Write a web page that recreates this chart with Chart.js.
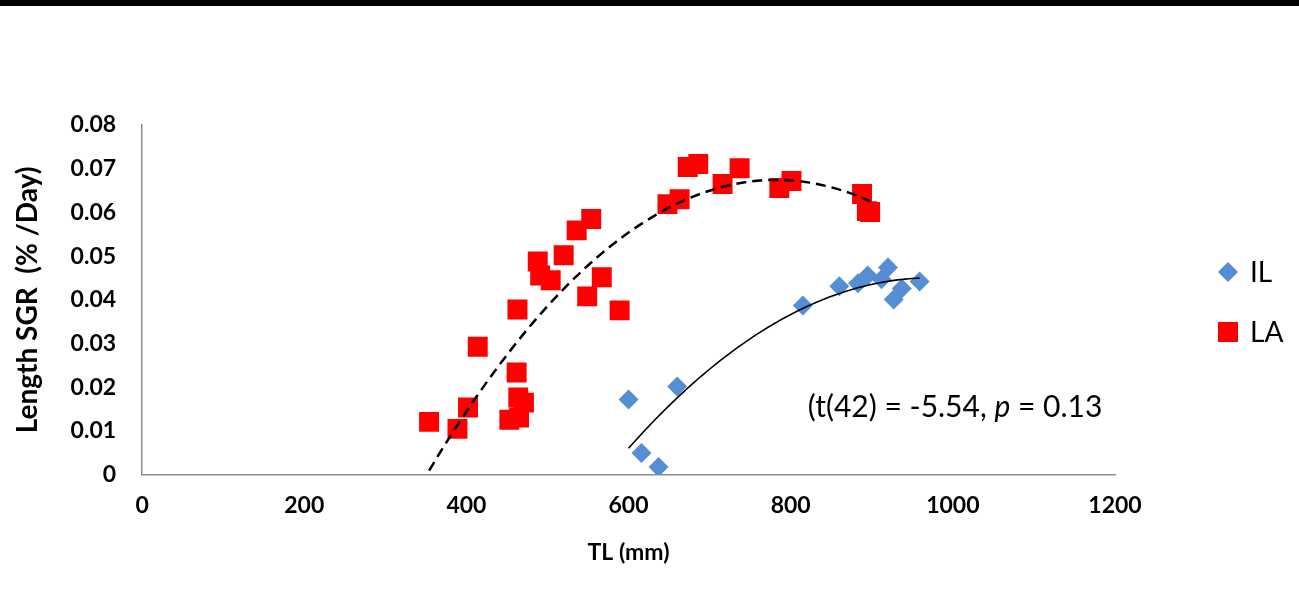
<!DOCTYPE html>
<html>
<head>
<meta charset="utf-8">
<script src="https://cdn.jsdelivr.net/npm/chart.js@4"></script>
<style>
  html, body { margin: 0; padding: 0; background: #fff; }
  #wrap { width: 1299px; height: 596px; }
</style>
</head>
<body>
<div id="wrap"><canvas id="chart"></canvas></div>
<script>
// values
const ilTL  = [600, 616, 637, 660, 815, 860, 883, 895, 912, 920, 937, 927, 959];
const ilSGR = [0.0172, 0.0050, 0.0018, 0.0202, 0.0387, 0.0431, 0.0438, 0.0456, 0.0447, 0.0474, 0.0426, 0.0401, 0.0442];

const laTL  = [354, 389, 402, 414, 463, 462, 464, 471, 453, 465, 488, 491, 504, 520, 536, 554, 567, 549, 589,
               648, 663, 673, 686, 716, 737, 786, 801, 888, 894, 898];
const laSGR = [0.0121, 0.0105, 0.0154, 0.0293, 0.0378, 0.0234, 0.0177, 0.0165, 0.0126, 0.0131, 0.0488, 0.0456,
               0.0445, 0.0502, 0.0559, 0.0585, 0.0452, 0.0408, 0.0376, 0.0619, 0.0630, 0.0704, 0.0711, 0.0665,
               0.0701, 0.0656, 0.0672, 0.0642, 0.0603, 0.0601];

const xTicks = [0, 200, 400, 600, 800, 1000, 1200];
const yTicks = [0, 0.01, 0.02, 0.03, 0.04, 0.05, 0.06, 0.07, 0.08];
const yTickLabels = ["0", "0.01", "0.02", "0.03", "0.04", "0.05", "0.06", "0.07", "0.08"];

const statText = ["(t(42) = -5.54, ", "p", " = 0.13"];
const statAt = { x: 821, y: 0.0154 };

const IL_BLUE = "#558ED5";
const LA_RED = "#FF0000";
const AXIS_GREY = "#8C8C8C";

Chart.defaults.font.family = "Lato";
Chart.defaults.color = "#000";

// second order polynomial trendline, like the spreadsheet one
function quadFit(xs, ys) {
  let s0 = xs.length, s1 = 0, s2 = 0, s3 = 0, s4 = 0, t0 = 0, t1 = 0, t2 = 0;
  xs.forEach((x, i) => {
    const y = ys[i];
    s1 += x; s2 += x * x; s3 += x * x * x; s4 += x * x * x * x;
    t0 += y; t1 += x * y; t2 += x * x * y;
  });
  const det = (m) =>
    m[0][0] * (m[1][1] * m[2][2] - m[1][2] * m[2][1]) -
    m[0][1] * (m[1][0] * m[2][2] - m[1][2] * m[2][0]) +
    m[0][2] * (m[1][0] * m[2][1] - m[1][1] * m[2][0]);
  const M = [[s0, s1, s2], [s1, s2, s3], [s2, s3, s4]];
  const T = [t0, t1, t2];
  const D = det(M);
  const coef = [0, 1, 2].map((k) => det(M.map((row, r) => row.map((v, c) => (c === k ? T[r] : v)))) / D);
  return (x) => coef[0] + coef[1] * x + coef[2] * x * x;
}

function trendPoints(xs, ys) {
  const f = quadFit(xs, ys);
  const lo = Math.min(...xs), hi = Math.max(...xs);
  const pts = [];
  for (let i = 0; i <= 80; i++) {
    const x = lo + (hi - lo) * i / 80;
    pts.push({ x, y: f(x) });
  }
  return pts;
}

const toPoints = (xs, ys) => xs.map((x, i) => ({ x, y: ys[i] }));

const extras = {
  id: "extras",
  beforeDraw(chart) {
    const { ctx, width } = chart;
    ctx.save();
    ctx.fillStyle = "#000";
    ctx.fillRect(0, 0, width, 6);
    ctx.restore();
  },
  afterDraw(chart) {
    const { ctx, chartArea, scales } = chart;
    ctx.save();
    // statistics note
    let x = scales.x.getPixelForValue(statAt.x);
    const y = scales.y.getPixelForValue(statAt.y);
    ctx.textBaseline = "middle";
    ctx.fillStyle = "#000";
    statText.forEach((part, i) => {
      ctx.font = (i === 1 ? "italic " : "") + "30px Lato";
      ctx.fillText(part, x, y);
      x += ctx.measureText(part).width;
    });

    // legend at the right
    const lx = chartArea.right + 113;
    const rows = [
      { label: "IL", y: chartArea.top + 147, draw: (cx, cy) => {
          ctx.fillStyle = IL_BLUE;
          ctx.beginPath();
          ctx.moveTo(cx, cy - 10); ctx.lineTo(cx + 10, cy);
          ctx.lineTo(cx, cy + 10); ctx.lineTo(cx - 10, cy);
          ctx.closePath(); ctx.fill();
        } },
      { label: "LA", y: chartArea.top + 207, draw: (cx, cy) => {
          ctx.fillStyle = LA_RED;
          ctx.fillRect(cx - 10, cy - 10, 20, 20);
        } }
    ];
    rows.forEach((r) => {
      r.draw(lx, r.y);
      ctx.fillStyle = "#000";
      ctx.font = "28px Lato";
      ctx.textBaseline = "middle";
      ctx.fillText(r.label, lx + 22, r.y + 1);
    });
    ctx.restore();
  }
};

new Chart(document.getElementById("chart"), {
  type: "scatter",
  data: {
    datasets: [
      {
        label: "LA trend",
        data: trendPoints(laTL, laSGR),
        showLine: true,
        pointRadius: 0,
        borderColor: "#000",
        borderWidth: 2.5,
        borderDash: [10, 6],
        order: 0
      },
      {
        label: "IL trend",
        data: trendPoints(ilTL, ilSGR),
        showLine: true,
        pointRadius: 0,
        borderColor: "#000",
        borderWidth: 1.6,
        order: 0
      },
      {
        label: "IL",
        data: toPoints(ilTL, ilSGR),
        pointStyle: "rectRot",
        pointRadius: 10,
        backgroundColor: IL_BLUE,
        borderWidth: 0,
        order: 1
      },
      {
        label: "LA",
        data: toPoints(laTL, laSGR),
        pointStyle: "rect",
        pointRadius: 14.1,
        backgroundColor: LA_RED,
        borderWidth: 0,
        order: 1
      }
    ]
  },
  options: {
    responsive: true,
    maintainAspectRatio: false,
    animation: false,
    events: [],
    layout: { padding: { left: 0, right: 184, top: 125, bottom: 0 } },
    plugins: { legend: { display: false }, tooltip: { enabled: false } },
    scales: {
      x: {
        type: "linear",
        min: 0,
        max: 1200,
        afterBuildTicks: (s) => { s.ticks = xTicks.map((v) => ({ value: v })); },
        grid: { display: false, drawTicks: false },
        border: { color: AXIS_GREY, width: 1.5 },
        ticks: { padding: 17, font: { size: 23, weight: "bold" }, callback: (v) => String(v) },
        title: {
          display: true,
          text: "TL (mm)",
          font: { size: 23, weight: "bold" },
          padding: { top: 2, bottom: 30 }
        }
      },
      y: {
        min: 0,
        max: 0.08,
        afterBuildTicks: (s) => { s.ticks = yTicks.map((v) => ({ value: v })); },
        grid: { display: false, drawTicks: false },
        border: { color: AXIS_GREY, width: 1.5 },
        ticks: {
          padding: 26,
          font: { size: 23, weight: "bold" },
          callback: (v, i) => yTickLabels[i]
        },
        title: {
          display: true,
          text: "Length SGR  (% /Day)",
          font: { size: 28, weight: "bold" },
          padding: { top: 11, bottom: 0 }
        }
      }
    }
  },
  plugins: [extras]
});
</script>
</body>
</html>
